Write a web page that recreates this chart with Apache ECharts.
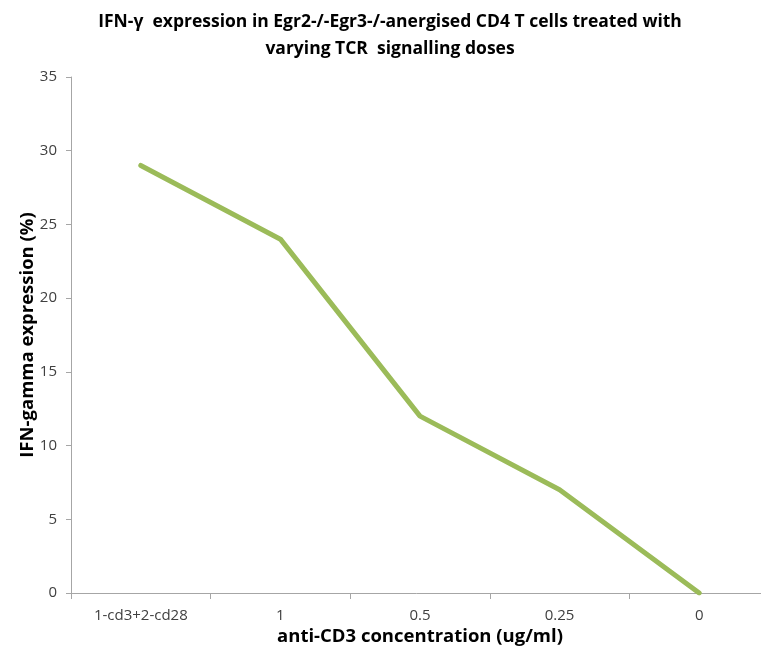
<!DOCTYPE html>
<html>
<head>
<meta charset="utf-8">
<script src="https://cdn.jsdelivr.net/npm/echarts@6/dist/echarts.min.js"></script>
<style>
  html, body { margin: 0; padding: 0; background: #fff; }
  #chart { width: 761px; height: 655px; }
</style>
</head>
<body>
<div id="chart"></div>
<script>
// data
const categories = ['1-cd3+2-cd28', '1', '0.5', '0.25', '0'];
const ifnValues = [29, 24, 12, 7, 0];
const yTicks = { min: 0, max: 35, interval: 5 };

const font = '"Open Sans", sans-serif';

const myChart = echarts.init(document.getElementById('chart'));
const option = {
  animation: false,
  title: {
    text: 'IFN-\u03b3  expression in Egr2-/-Egr3-/-anergised CD4 T cells treated with\nvarying TCR  signalling doses',
    left: 385,
    textAlign: 'center',
    top: 4,
    textStyle: {
      fontFamily: font,
      fontSize: 17.5,
      fontWeight: 'bold',
      color: '#000',
      lineHeight: 27
    }
  },
  grid: {
    left: 71,
    top: 77,
    width: 698,
    height: 516,
    containLabel: false,
    outerBoundsMode: 'none'
  },
  xAxis: {
    type: 'category',
    data: categories,
    boundaryGap: true,
    name: 'anti-CD3 concentration (ug/ml)',
    nameLocation: 'middle',
    nameGap: 34,
    nameMoveOverlap: false,
    nameTextStyle: { fontFamily: font, fontSize: 18.5, fontWeight: 'bold', color: '#000' },
    axisLine: { lineStyle: { color: '#a6a6a6', width: 1 } },
    axisTick: { show: true, length: 6, lineStyle: { color: '#a6a6a6' } },
    axisLabel: { fontFamily: font, fontSize: 15, color: '#404040', margin: 15 }
  },
  yAxis: {
    type: 'value',
    min: yTicks.min,
    max: yTicks.max,
    interval: yTicks.interval,
    name: 'IFN-gamma expression (%)',
    nameLocation: 'middle',
    nameGap: 34,
    nameMoveOverlap: false,
    nameTextStyle: { fontFamily: font, fontSize: 18.5, fontWeight: 'bold', color: '#000' },
    axisLine: { show: true, lineStyle: { color: '#a6a6a6', width: 1 } },
    axisTick: { show: true, length: 5, lineStyle: { color: '#a6a6a6' } },
    splitLine: { show: false },
    axisLabel: { fontFamily: font, fontSize: 15, color: '#404040', margin: 14 }
  },
  series: [
    {
      type: 'line',
      data: ifnValues,
      symbol: 'none',
      lineStyle: { color: '#9bbb59', width: 5, cap: 'round', join: 'round' }
    }
  ]
};
myChart.setOption(option);
</script>
</body>
</html>
